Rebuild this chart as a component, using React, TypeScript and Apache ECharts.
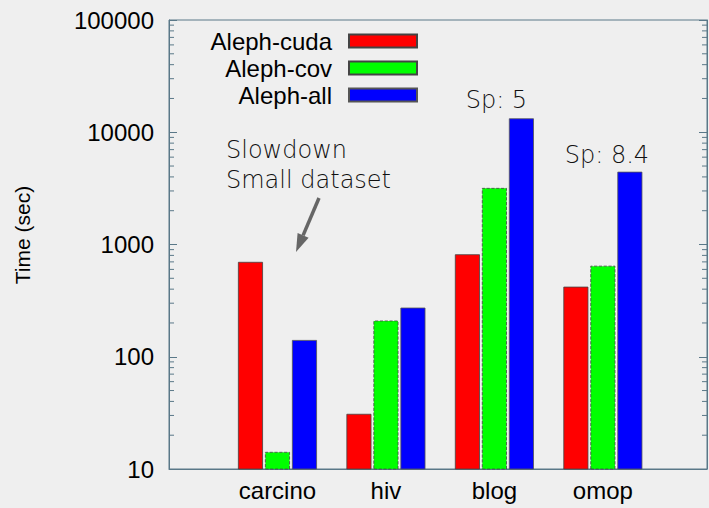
import React, { useEffect, useRef } from "react";
import * as echarts from "echarts";

const categories = ["carcino", "hiv", "blog", "omop"];
const seriesNames = ["Aleph-cuda", "Aleph-cov", "Aleph-all"];
const cudaTimes = [700, 31, 818, 421];
const covTimes = [14.2, 210, 3190, 647];
const allTimes = [141, 274, 13300, 4450];
const speedupLabels = ["", "", "Sp: 5", "Sp: 8.4"];
const speedupOffsets = [[0, 0], [0, 0], [-25, 0], [-23, 0]];
const speedupDistances = [0, 0, 6, 5];
const yTickLabels = ["10", "100", "1000", "10000", "100000"];
const minorDecades = [10, 100, 1000, 10000];
const minorMultipliers = [2, 3, 4, 5, 6, 7, 8, 9];

const AXIS_COLOR = "#5a7888";
const NOTE_COLOR = "#111";
const X_MAX = 4.96;

export default function App() {
  const ref = useRef<HTMLDivElement>(null);

  useEffect(() => {
    if (!ref.current) return;
    const chart = echarts.init(ref.current, undefined, { renderer: "svg" });

    const minorTicks: number[][] = [];
    minorDecades.forEach((d) =>
      minorMultipliers.forEach((m) => minorTicks.push([0, d * m]))
    );

    const mkData = (vals: number[]) => vals.map((v, i) => [i + 1, v]);

    const barBase = {
      type: "bar" as const,
      barWidth: 25,
      barGap: "8%",
      xAxisIndex: 0,
      yAxisIndex: 0,
    };

    const yAxisCommon = {
      type: "log" as const,
      logBase: 10,
      min: 10,
      max: 100000,
      axisLine: { show: true, lineStyle: { color: AXIS_COLOR, width: 1 } },
      axisTick: { show: true, inside: true, length: 8, lineStyle: { color: AXIS_COLOR } },
      splitLine: { show: false },
    };

    chart.setOption({
      animation: false,
      backgroundColor: "#efefef",
      grid: {
        left: 169,
        top: 20,
        width: 538,
        height: 449,
        show: true,
        borderColor: AXIS_COLOR,
        borderWidth: 1,
        backgroundColor: "transparent",
      },
      legend: {
        data: seriesNames,
        orient: "vertical",
        align: "right",
        icon: "rect",
        right: 291,
        top: 29,
        padding: 0,
        itemWidth: 68,
        itemHeight: 13,
        itemGap: 3,
        textStyle: {
          fontFamily: "Liberation Sans",
          fontSize: 24,
          color: "#000",
          lineHeight: 22,
          padding: [0, 12, 0, 0],
        },
      },
      xAxis: {
        type: "value",
        min: 0,
        max: X_MAX,
        interval: 1,
        axisLine: { show: true, lineStyle: { color: AXIS_COLOR } },
        axisTick: { show: false },
        splitLine: { show: false },
        axisLabel: {
          show: true,
          margin: 9,
          fontFamily: "Liberation Sans",
          fontSize: 24,
          color: "#000",
          showMaxLabel: false,
          formatter: (v: number) =>
            Number.isInteger(v) && v >= 1 && v <= categories.length ? categories[v - 1] : "",
        },
      },
      yAxis: [
        {
          ...yAxisCommon,
          position: "left",
          axisLabel: {
            margin: 15,
            fontFamily: "Liberation Sans",
            fontSize: 24,
            color: "#000",
            formatter: (v: number) => {
              const idx = Math.round(Math.log10(v)) - 1;
              return yTickLabels[idx] ?? "";
            },
          },
        },
        {
          ...yAxisCommon,
          position: "right",
          axisLabel: { show: false },
        },
      ],
      series: [
        {
          ...barBase,
          name: seriesNames[0],
          data: mkData(cudaTimes),
          itemStyle: { color: "#ff0000", borderColor: "#444", borderWidth: 0.8 },
        },
        {
          ...barBase,
          name: seriesNames[1],
          data: mkData(covTimes),
          itemStyle: {
            color: "#00ff00",
            borderColor: "#444",
            borderWidth: 0.8,
            borderType: "dashed",
          },
        },
        {
          ...barBase,
          name: seriesNames[2],
          data: allTimes.map((v, i) => ({
            value: [i + 1, v],
            label: speedupLabels[i]
              ? {
                  show: true,
                  position: "top",
                  formatter: speedupLabels[i],
                  offset: speedupOffsets[i],
                  distance: speedupDistances[i],
                  fontFamily: "DejaVu Sans",
                  fontWeight: 200,
                  fontSize: 24,
                  lineHeight: 24,
                  color: NOTE_COLOR,
                }
              : { show: false },
          })),
          itemStyle: { color: "#0000ff", borderColor: "#555", borderWidth: 0.8 },
        },
        {
          type: "custom",
          name: "minorTicks",
          silent: true,
          z: 5,
          xAxisIndex: 0,
          yAxisIndex: 0,
          data: minorTicks,
          renderItem: (_params: any, api: any) => {
            const v = api.value(1);
            const l = api.coord([0, v]);
            const r = api.coord([X_MAX, v]);
            return {
              type: "group",
              children: [
                {
                  type: "line",
                  shape: { x1: l[0], y1: l[1], x2: l[0] + 5, y2: l[1] },
                  style: { stroke: AXIS_COLOR, lineWidth: 1 },
                },
                {
                  type: "line",
                  shape: { x1: r[0], y1: r[1], x2: r[0] - 5, y2: r[1] },
                  style: { stroke: AXIS_COLOR, lineWidth: 1 },
                },
              ],
            };
          },
        },
      ],
      graphic: [
        {
          type: "text",
          x: 22,
          y: 235,
          rotation: Math.PI / 2,
          style: {
            text: "Time (sec)",
            fontFamily: "Liberation Sans",
            fontSize: 21,
            fill: "#000",
            align: "center",
            verticalAlign: "middle",
          },
        },
        {
          type: "text",
          x: 226,
          y: 150,
          style: {
            text: "Slowdown",
            fontFamily: "DejaVu Sans",
            fontWeight: 200,
            fontSize: 24,
            fill: NOTE_COLOR,
            align: "left",
            verticalAlign: "middle",
          },
        },
        {
          type: "text",
          x: 226,
          y: 180,
          style: {
            text: "Small dataset",
            fontFamily: "DejaVu Sans",
            fontWeight: 200,
            fontSize: 24,
            fill: NOTE_COLOR,
            align: "left",
            verticalAlign: "middle",
          },
        },
        {
          type: "line",
          shape: { x1: 319, y1: 198, x2: 303.1, y2: 235.4 },
          style: { stroke: "#666", lineWidth: 3.5 },
        },
        {
          type: "polygon",
          shape: { points: [[296, 252], [308.6, 237.8], [297.6, 233.1]] },
          style: { fill: "#666" },
        },
      ],
    });

    return () => chart.dispose();
  }, []);

  return (
    <div
      ref={ref}
      style={{ position: "absolute", left: 0, top: 0, width: 709, height: 508 }}
    />
  );
}
